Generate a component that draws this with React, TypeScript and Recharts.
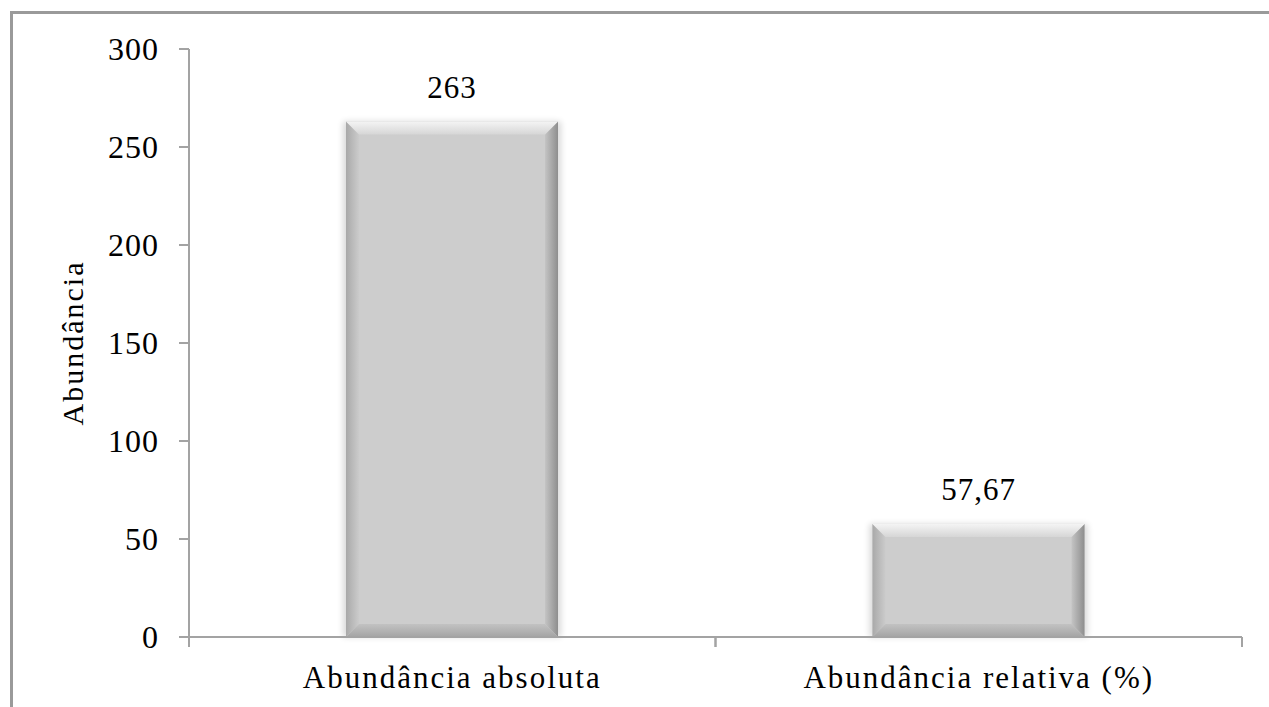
import { BarChart, Bar, XAxis, YAxis, LabelList, Label } from 'recharts';

const categories = ['Abundância absoluta', 'Abundância relativa (%)'];
const values = [263, 57.67];
const valueLabels = ['263', '57,67'];
const yTicks = [0, 50, 100, 150, 200, 250, 300];

const data = categories.map((name, i) => ({ name, value: values[i], label: valueLabels[i] }));

const W = 1269;
const H = 707;
const margin = { top: 49, right: 27, left: 0, bottom: 0 };
const yAxisW = 189;
const halfBand = (W - margin.left - margin.right - yAxisW) / categories.length / 2;
const font = "'Liberation Serif', 'Times New Roman', serif";
const axisColor = '#a3a3a3';

// bevelled grey bar like the Office "bevel" effect
function BevelBar(props: any) {
  const { x, y, width: w, height: h, index } = props;
  if (!h || h <= 0) return null;
  const b = 13;
  const id = `bv${index}`;
  return (
    <g>
      <defs>
        <linearGradient id={`${id}t`} x1="0" y1="0" x2="0" y2="1">
          <stop offset="0%" stopColor="#f4f4f4" />
          <stop offset="100%" stopColor="#d6d6d6" />
        </linearGradient>
        <linearGradient id={`${id}l`} x1="0" y1="0" x2="1" y2="0">
          <stop offset="0%" stopColor="#a9a9a9" />
          <stop offset="100%" stopColor="#cbcbcb" />
        </linearGradient>
        <linearGradient id={`${id}r`} x1="0" y1="0" x2="1" y2="0">
          <stop offset="0%" stopColor="#c4c4c4" />
          <stop offset="100%" stopColor="#8e8e8e" />
        </linearGradient>
        <linearGradient id={`${id}b`} x1="0" y1="0" x2="0" y2="1">
          <stop offset="0%" stopColor="#c2c2c2" />
          <stop offset="100%" stopColor="#a4a4a4" />
        </linearGradient>
        <filter id={`${id}s`} x="-10%" y="-10%" width="120%" height="120%">
          <feGaussianBlur stdDeviation="3" />
        </filter>
      </defs>
      <rect x={x - 3} y={y} width={w + 6} height={h} fill="#000" opacity={0.15} filter={`url(#${id}s)`} />
      <rect x={x} y={y} width={w} height={h} fill="#cdcdcd" />
      <polygon points={`${x},${y} ${x + b},${y + b} ${x + b},${y + h - b} ${x},${y + h}`} fill={`url(#${id}l)`} />
      <polygon points={`${x + w},${y} ${x + w - b},${y + b} ${x + w - b},${y + h - b} ${x + w},${y + h}`} fill={`url(#${id}r)`} />
      <polygon points={`${x},${y + h} ${x + b},${y + h - b} ${x + w - b},${y + h - b} ${x + w},${y + h}`} fill={`url(#${id}b)`} />
      <polygon points={`${x},${y} ${x + w},${y} ${x + w - b},${y + b} ${x + b},${y + b}`} fill={`url(#${id}t)`} />
    </g>
  );
}

// category label with tick marks on the band edges
function CategoryTick(props: any) {
  const { x, y, payload } = props;
  const axisY = y - 29;
  return (
    <g>
      <line x1={x - halfBand} y1={axisY} x2={x - halfBand} y2={axisY + 10} stroke={axisColor} strokeWidth={2} />
      <line x1={x + halfBand} y1={axisY} x2={x + halfBand} y2={axisY + 10} stroke={axisColor} strokeWidth={2} />
      <text x={x} y={y} dy="0.71em" textAnchor="middle" fontSize={31} letterSpacing={2} fontFamily={font} fill="#000">
        {payload.value}
      </text>
    </g>
  );
}

export default function App() {
  return (
    <div style={{ position: 'absolute', left: 0, top: 0, width: W, height: H, background: '#fff', overflow: 'hidden' }}>
      <div
        style={{
          position: 'absolute',
          left: 10,
          top: 11,
          right: 0,
          bottom: 0,
          borderTop: '3px solid #9a9a9a',
          borderLeft: '3px solid #9a9a9a',
        }}
      />
      <div style={{ position: 'absolute', left: 0, top: 0 }}>
        <BarChart width={W} height={H} data={data} margin={margin} barSize={212}>
          <XAxis
            dataKey="name"
            height={70}
            tickLine={false}
            axisLine={{ stroke: axisColor, strokeWidth: 2 }}
            tick={<CategoryTick />}
            tickSize={10}
            tickMargin={19}
            interval={0}
          />
          <YAxis
            width={yAxisW}
            domain={[0, 300]}
            ticks={yTicks}
            tickSize={10}
            tickMargin={20}
            axisLine={{ stroke: axisColor, strokeWidth: 2 }}
            tickLine={{ stroke: axisColor, strokeWidth: 2 }}
            tick={{ fontSize: 32, fontFamily: font, fill: '#000', letterSpacing: 1 }}
          >
            <Label
              value="Abundância"
              angle={-90}
              position="insideLeft"
              offset={72}
              style={{ fontSize: 30, fontFamily: font, fill: '#000', letterSpacing: 2, textAnchor: 'middle' }}
            />
          </YAxis>
          <Bar dataKey="value" shape={<BevelBar />} isAnimationActive={false}>
            <LabelList
              dataKey="label"
              position="top"
              offset={24}
              style={{ fontSize: 31, fontFamily: font, fill: '#000', letterSpacing: 1 }}
            />
          </Bar>
        </BarChart>
      </div>
    </div>
  );
}
